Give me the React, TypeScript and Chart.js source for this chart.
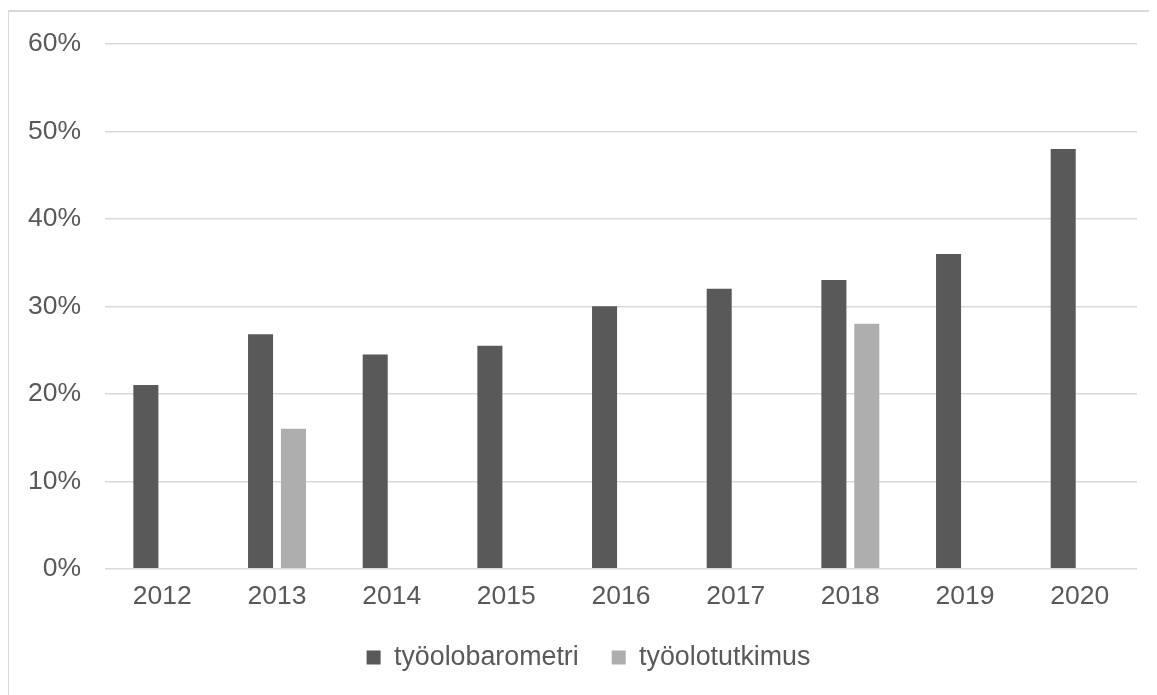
import React, { useEffect, useRef } from "react";
import { Chart, registerables } from "chart.js";

Chart.register(...registerables);

const categories = ["2012", "2013", "2014", "2015", "2016", "2017", "2018", "2019", "2020"];
const barometriValues = [21, 26.8, 24.5, 25.5, 30, 32, 33, 36, 48];
const tutkimusValues: (number | null)[] = [null, 16, null, null, null, null, 28, null, null];
const seriesNames = ["työolobarometri", "työolotutkimus"];
const yTicks = { min: 0, max: 60, step: 10 };

const TEXT = "#595959";
const FONT = "'Liberation Sans', Arial, sans-serif";

const legendShift = {
  id: "legendShift",
  afterLayout(chart: any) {
    if (chart.legend) chart.legend.left += 13;
  },
};

export default function App() {
  const ref = useRef<HTMLCanvasElement | null>(null);

  useEffect(() => {
    if (!ref.current) return;
    const chart = new Chart(ref.current, {
      type: "bar",
      data: {
        labels: categories,
        datasets: [
          {
            label: seriesNames[0],
            data: barometriValues,
            backgroundColor: "#595959",
            categoryPercentage: 0.574,
            barPercentage: 0.76,
          },
          {
            label: seriesNames[1],
            data: tutkimusValues,
            backgroundColor: "#aeaeae",
            categoryPercentage: 0.574,
            barPercentage: 0.76,
          },
        ],
      },
      plugins: [legendShift],
      options: {
        responsive: false,
        animation: false,
        layout: { padding: { left: 18, right: 20, top: 32, bottom: 14 } },
        plugins: {
          tooltip: { enabled: false },
          legend: {
            position: "bottom",
            labels: {
              boxWidth: 14,
              boxHeight: 14,
              padding: 33,
              color: TEXT,
              font: { family: FONT, size: 26.8 },
            },
          },
        },
        scales: {
          x: {
            grid: { display: false, drawTicks: false },
            border: { display: false },
            ticks: {
              color: TEXT,
              padding: 12.5,
              font: { family: FONT, size: 26.5 },
              maxRotation: 0,
            },
            afterFit: (axis: any) => {
              axis.height = 42.5;
            },
          },
          y: {
            min: yTicks.min,
            max: yTicks.max,
            grid: { color: "#d9d9d9", lineWidth: 1.5, drawTicks: false },
            border: { display: false },
            ticks: {
              stepSize: yTicks.step,
              color: TEXT,
              padding: 24,
              font: { family: FONT, size: 26.5 },
              callback: (v: any) => v + "%",
            },
            afterFit: (axis: any) => {
              axis.width = 78;
              axis.paddingTop = 0;
              axis.paddingBottom = 0;
            },
          },
        },
      },
    });
    return () => chart.destroy();
  }, []);

  return (
    <div
      style={{
        marginTop: 2,
        marginLeft: -1,
        borderTop: "2px solid #d9d9d9",
        borderLeft: "2px solid #d9d9d9",
        width: 1148,
        height: 683,
      }}
    >
      <canvas ref={ref} width={1148} height={683} style={{ display: "block" }} />
    </div>
  );
}
